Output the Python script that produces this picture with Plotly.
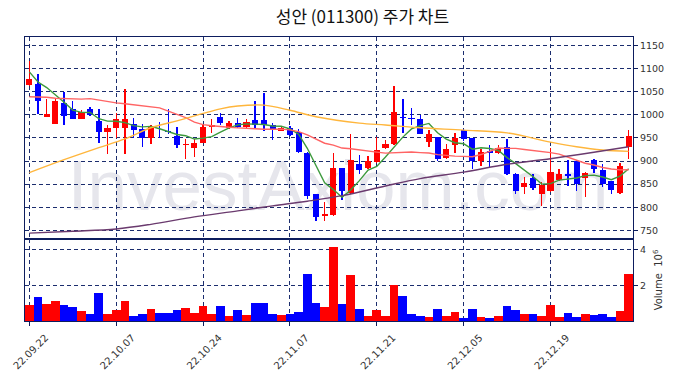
import pandas as pd
import plotly.graph_objects as go
from plotly.subplots import make_subplots

# ---- data ----
DATES = [d.strftime("%Y-%m-%d") for d in pd.bdate_range(
    "2022-09-22", "2023-01-02", freq="C",
    holidays=["2022-10-03", "2022-10-10", "2022-12-30"])]

OPEN = [1065, 1066, 996, 981, 1026, 1012, 992, 1012, 986, 963,
        971, 971, 981, 970, 950, 966, 965, 955, 935, 928,
        940, 974, 996, 972, 983, 974, 988, 988, 977, 966,
        971, 963, 918, 828, 781, 784, 884, 831, 894, 884,
        898, 929, 936, 996, 994, 992, 942, 952, 906, 935,
        967, 949, 900, 921, 918, 931, 871, 844, 864, 829,
        835, 858, 872, 901, 864, 903, 881, 856, 830, 931]
HIGH = [1117, 1088, 1035, 1035, 1050, 1030, 1010, 1018, 1012, 978,
        1005, 1057, 994, 981, 979, 984, 1012, 974, 947, 947,
        979, 990, 1005, 987, 994, 992, 1030, 1048, 983, 976,
        976, 969, 920, 829, 811, 918, 885, 958, 914, 911,
        953, 945, 1062, 1035, 1015, 1000, 967, 953, 936, 960,
        969, 950, 927, 934, 934, 947, 875, 866, 873, 854,
        929, 883, 902, 902, 876, 904, 893, 857, 895, 968]
LOW = [1063, 1001, 995, 980, 979, 990, 990, 997, 940, 916,
       950, 916, 950, 931, 937, 950, 958, 929, 905, 909,
       938, 960, 979, 970, 972, 971, 970, 965, 945, 964,
       955, 918, 818, 770, 770, 781, 815, 828, 871, 882,
       896, 927, 934, 961, 977, 958, 931, 900, 904, 918,
       943, 882, 890, 885, 916, 870, 828, 828, 838, 802,
       834, 856, 847, 835, 822, 875, 844, 828, 829, 905]
CLOSE = [1077, 1030, 1001, 1031, 997, 992, 1006, 1000, 963, 971,
         990, 992, 967, 950, 976, 964, 963, 934, 937, 940,
         974, 979, 982, 983, 974, 984, 977, 977, 967, 971,
         957, 919, 824, 778, 786, 884, 835, 903, 880, 901,
         923, 936, 1006, 993, 990, 959, 959, 905, 925, 950,
         948, 900, 920, 917, 929, 871, 835, 853, 842, 849,
         877, 872, 867, 851, 875, 883, 851, 838, 890, 955]
VOLUME_M = [0.92, 1.36, 0.97, 1.14, 0.92, 0.80, 0.58, 0.41, 1.59, 0.41,
            0.64, 1.14, 0.30, 0.41, 0.69, 0.47, 0.47, 0.64, 0.75, 0.47,
            0.86, 0.41, 0.86, 0.30, 0.64, 0.36, 1.03, 1.03, 0.41, 0.36,
            0.41, 0.52, 2.65, 1.03, 0.80, 4.17, 0.97, 2.60, 0.69, 0.30,
            0.64, 0.30, 2.04, 1.42, 0.41, 0.30, 0.24, 0.69, 0.30, 0.52,
            0.19, 0.69, 0.24, 0.19, 0.30, 0.86, 0.64, 0.41, 0.41, 0.30,
            0.92, 0.24, 0.47, 0.24, 0.41, 0.36, 0.41, 0.24, 0.58, 2.65]

# moving-average values before a full window exists
MA5_HEAD = [1093, 1071, 1059, 1044]
MA20_HEAD = [1039, 1039, 1038, 1036, 1035, 1034, 1034, 1035, 1032, 1028,
             1026, 1024, 1022, 1020, 1017, 1015, 1008, 1001, 994]
# long moving averages need history not shown: read at sample candles
MA60_IDX = [0, 4, 8, 11, 14, 17, 20, 22, 24, 27, 30, 33, 38, 41, 45, 50, 55, 60, 63, 66, 69]
MA60_VAL = [875, 903, 929, 948, 972, 987, 1003, 1013, 1019, 1021, 1010, 996,
            982, 978, 972, 967, 961, 941, 931, 924, 921]
MA120_IDX = [0, 5, 10, 14, 19, 24, 28, 32, 36, 41, 45, 50, 55, 60, 65, 69]
MA120_VAL = [744, 748, 753, 763, 779, 792, 803, 813, 825, 846, 862, 876,
             893, 905, 919, 931]

TICK_IDX = [0, 10, 20, 30, 40, 50, 60]
PRICE_TICKS = [750, 800, 850, 900, 950, 1000, 1050, 1100, 1150]
VOL_TICKS = [2, 4]

# ---- derived ----
n = len(CLOSE)
UP, DOWN = "#ff0000", "#0000ff"
colors = [UP if c >= o else DOWN for o, c in zip(OPEN, CLOSE)]
ma5 = MA5_HEAD + [sum(CLOSE[i - 4:i + 1]) / 5 for i in range(4, n)]
ma20 = MA20_HEAD + [sum(CLOSE[i - 19:i + 1]) / 20 for i in range(19, n)]

NAVY = "#0d1d5e"
GRID = "#1b2d6e"

fig = make_subplots(rows=2, cols=1, shared_xaxes=True, vertical_spacing=0,
                    row_heights=[0.711, 0.289])

# wicks
fig.add_trace(go.Bar(x=DATES, base=LOW, y=[h - l for h, l in zip(HIGH, LOW)],
                     width=0.16, marker=dict(color=colors, line_width=0),
                     hoverinfo="skip", showlegend=False), row=1, col=1)
# bodies
fig.add_trace(go.Bar(x=DATES, base=[min(o, c) for o, c in zip(OPEN, CLOSE)],
                     y=[max(abs(c - o), 1.5) for o, c in zip(OPEN, CLOSE)],
                     width=0.7, marker=dict(color=colors, line_width=0),
                     showlegend=False), row=1, col=1)

fig.add_trace(go.Scatter(x=DATES, y=ma5, mode="lines",
                         line=dict(color="#3c9a3c", width=1.4), showlegend=False), row=1, col=1)
fig.add_trace(go.Scatter(x=DATES, y=ma20, mode="lines",
                         line=dict(color="#ff6464", width=1.4), showlegend=False), row=1, col=1)
fig.add_trace(go.Scatter(x=[DATES[i] for i in MA60_IDX], y=MA60_VAL, mode="lines",
                         line=dict(color="#ffb63c", width=1.4, shape="spline"),
                         showlegend=False), row=1, col=1)
fig.add_trace(go.Scatter(x=[DATES[i] for i in MA120_IDX], y=MA120_VAL, mode="lines",
                         line=dict(color="#6a3a6e", width=1.4, shape="spline"),
                         showlegend=False), row=1, col=1)

fig.add_trace(go.Bar(x=DATES, y=VOLUME_M, width=1.0,
                     marker=dict(color=colors, line_width=0), showlegend=False),
              row=2, col=1)

tickfont = dict(family="DejaVu Sans", size=9.5, color="#333333")
axis_common = dict(showline=True, mirror=True, linecolor=NAVY, linewidth=1,
                   showgrid=True, gridcolor=GRID, gridwidth=1, griddash="4px,3px",
                   zeroline=False, automargin=False)

fig.update_xaxes(type="category", range=[-0.5, n - 0.5],
                 tickvals=[DATES[i] for i in TICK_IDX], **axis_common)
fig.update_xaxes(showticklabels=False, ticks="", row=1, col=1)
fig.update_xaxes(ticktext=[pd.Timestamp(DATES[i]).strftime("%y.%m.%d") for i in TICK_IDX],
                 tickangle=-45, ticks="outside", ticklen=4, tickcolor=NAVY,
                 tickfont=dict(family="DejaVu Sans", size=10, color="#333333"),
                 ticklabelshift=16, ticklabelstandoff=2, row=2, col=1)

fig.update_yaxes(side="right", range=[731.4, 1168.5], tickvals=PRICE_TICKS,
                 ticks="outside", ticklen=4, tickcolor=NAVY, tickfont=tickfont,
                 row=1, col=1, **axis_common)
fig.update_yaxes(side="right", range=[0, 4.62], tickvals=VOL_TICKS,
                 ticks="outside", ticklen=4, tickcolor=NAVY, tickfont=tickfont,
                 title=dict(text="Volume  10<sup>6</sup>", font=dict(family="DejaVu Sans", size=10, color="#333333"),
                            standoff=10),
                 row=2, col=1, **axis_common)

fig.add_shape(type="rect", xref="x domain", yref="y domain", x0=0.03, x1=1.0, y0=0.05, y1=0.55,
              line_width=0, fillcolor="rgba(0,0,0,0)", layer="below",
              label=dict(text="InvestAxiom.com", textposition="middle center",
                         font=dict(family="Liberation Sans", size=71, color="#e6e6ec")))

fig.update_layout(
    width=680, height=378,
    margin=dict(l=25, r=47, t=37, b=57, autoexpand=False),
    paper_bgcolor="white", plot_bgcolor="white",
    barmode="overlay", bargap=0,
    title=dict(text="성안 (011300) 주가 차트", x=0.533, xanchor="center", y=0.955, yanchor="middle",
               font=dict(family="Noto Sans CJK KR", size=17, color="#111111")),
    hovermode=False,
)

fig.write_html("out.html", config={"displayModeBar": False, "staticPlot": True})

# remove the browser's default page margin so the figure sits at the top-left corner
with open("out.html", encoding="utf-8") as f:
    html = f.read()
html = html.replace("<body>", '<body style="margin:0;padding:0">', 1)
with open("out.html", "w", encoding="utf-8") as f:
    f.write(html)
